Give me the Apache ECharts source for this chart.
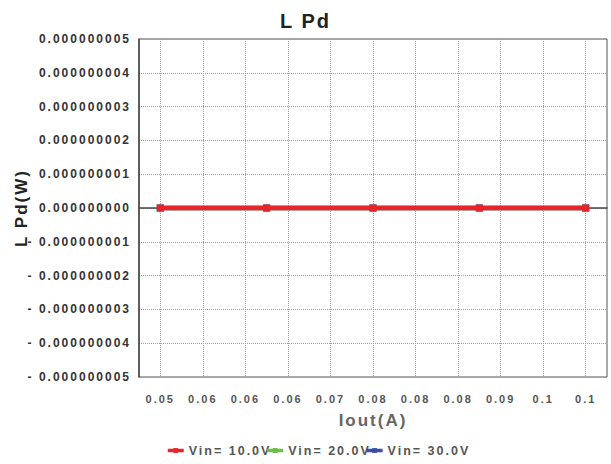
<!DOCTYPE html>
<html>
<head>
<meta charset="utf-8">
<script src="https://cdn.jsdelivr.net/npm/echarts@6/dist/echarts.min.js"></script>
<style>
  html, body { margin: 0; padding: 0; background: #fff; }
  #chart { width: 611px; height: 464px; }
  #chart text { letter-spacing: 2px; }
</style>
</head>
<body>
<div id="chart"></div>
<script>
// ---- data ----
var xValues = [0.05, 0.0625, 0.075, 0.0875, 0.1];
var seriesNames = ['Vin= 10.0V', 'Vin= 20.0V', 'Vin= 30.0V'];
var vin10 = [0, 0, 0, 0, 0];
var vin20 = [0, 0, 0, 0, 0];
var vin30 = [0, 0, 0, 0, 0];
var xTickValues = [0.05, 0.055, 0.06, 0.065, 0.07, 0.075, 0.08, 0.085, 0.09, 0.095, 0.1];
var xTickLabels = ['0.05', '0.06', '0.06', '0.06', '0.07', '0.08', '0.08', '0.08', '0.09', '0.1', '0.1'];
var yTickLabels = ['- 0.000000005', '- 0.000000004', '- 0.000000003', '- 0.000000002', '- 0.000000001',
  '0.000000000', '0.000000001', '0.000000002', '0.000000003', '0.000000004', '0.000000005'];

var colors = ['#e8242a', '#6cc04a', '#3b4ea3'];
var FONT = "'Liberation Sans', Arial, sans-serif";

function pairs(vals) {
  return xValues.map(function (x, i) { return [x, vals[i]]; });
}
function xLabel(v) {
  for (var i = 0; i < xTickValues.length; i++) {
    if (Math.abs(xTickValues[i] - v) < 1e-6) return xTickLabels[i];
  }
  return '';
}
function yLabel(v) {
  var idx = Math.round(v / 1e-9) + 5;
  return yTickLabels[idx] || '';
}
function mkSeries(name, vals, color, z) {
  return {
    name: name, type: 'line', data: pairs(vals), z: z,
    symbol: 'rect', symbolSize: 7, showSymbol: true,
    lineStyle: { color: color, width: 4.5 },
    itemStyle: { color: color },
    emphasis: { disabled: true },
    animation: false
  };
}

var dom = document.getElementById('chart');
var chart = echarts.init(dom, null, { renderer: 'svg' });
chart.setOption({
  backgroundColor: '#ffffff',
  animation: false,
  title: {
    text: 'L Pd', left: 'center', top: 6,
    textStyle: { fontFamily: FONT, fontSize: 20, fontWeight: 'bold', color: '#222' }
  },
  legend: {
    data: seriesNames,
    left: 161, top: 439,
    itemWidth: 16, itemHeight: 6, itemGap: 14,
    lineStyle: { width: 3.5 },
    textStyle: { fontFamily: FONT, fontSize: 12.5, fontWeight: 'bold', color: '#555' }
  },
  grid: {
    left: 139, top: 39, right: 4, bottom: 87,
    show: true, borderColor: '#555', borderWidth: 1, backgroundColor: '#fff'
  },
  xAxis: {
    type: 'value', min: 0.0475, max: 0.1025,
    name: 'Iout(A)', nameLocation: 'middle', nameGap: 35,
    nameTextStyle: { fontFamily: FONT, fontSize: 17, fontWeight: 'bold', color: '#666' },
    axisLine: { show: true, lineStyle: { color: '#444', width: 1.5 } },
    axisTick: { show: false, customValues: xTickValues },
    axisLabel: {
      customValues: xTickValues, formatter: xLabel, margin: 16,
      fontFamily: FONT, fontSize: 11, fontWeight: 'bold', color: '#555'
    },
    splitLine: { show: true, lineStyle: { color: '#a0a0a0', type: [1, 1], width: 1 } }
  },
  yAxis: {
    type: 'value', min: -0.000000005, max: 0.000000005, interval: 0.000000001,
    name: 'L Pd(W)', nameLocation: 'middle', nameGap: 109, nameRotate: 90,
    nameTextStyle: { fontFamily: FONT, fontSize: 17, fontWeight: 'bold', color: '#222' },
    axisLine: { show: true, lineStyle: { color: '#444', width: 1.5 } },
    axisTick: { show: false },
    axisLabel: {
      formatter: yLabel, margin: 8,
      fontFamily: FONT, fontSize: 12, fontWeight: 'bold', color: '#333'
    },
    splitLine: { show: true, lineStyle: { color: '#a0a0a0', type: [1, 1], width: 1 } }
  },
  series: [
    mkSeries(seriesNames[1], vin20, colors[1], 2),
    mkSeries(seriesNames[2], vin30, colors[2], 3),
    mkSeries(seriesNames[0], vin10, colors[0], 4)
  ]
});
</script>
</body>
</html>
